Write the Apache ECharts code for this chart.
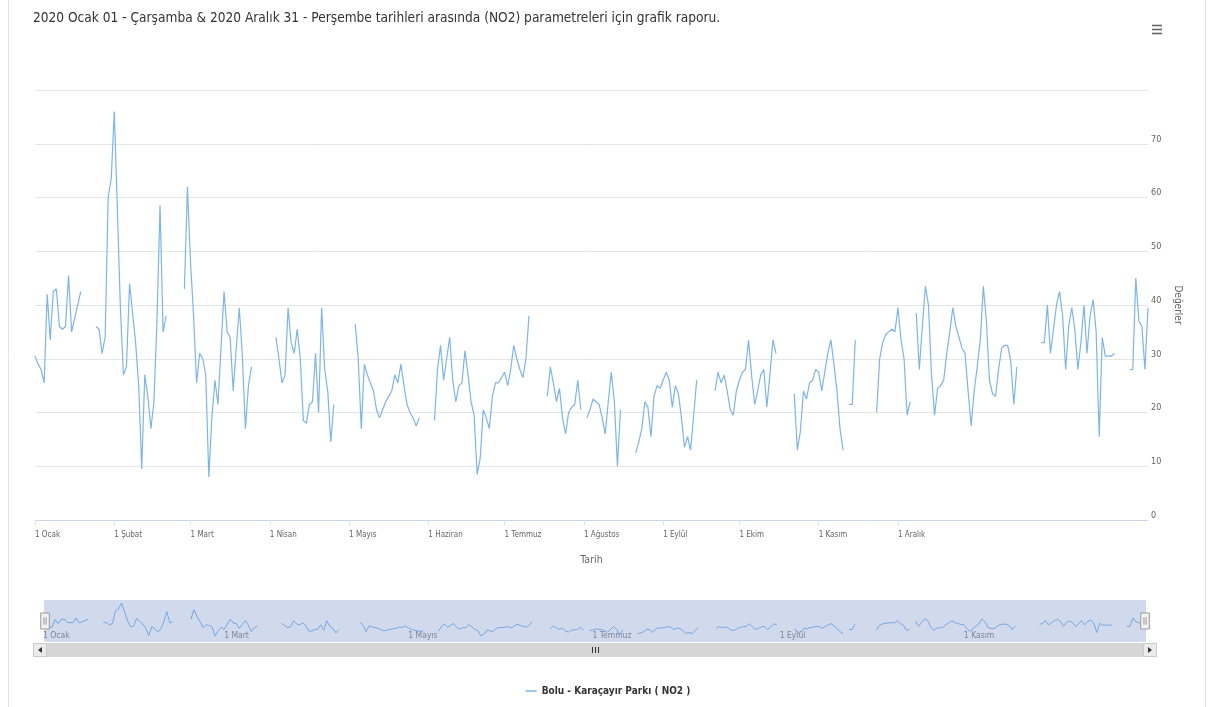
<!DOCTYPE html>
<html>
<head>
<meta charset="utf-8">
<script src="https://cdn.jsdelivr.net/npm/echarts@6/dist/echarts.min.js"></script>
<style>
html,body{margin:0;padding:0;background:#ffffff;}
#chart{width:1216px;height:707px;}
</style>
</head>
<body>
<div id="chart"></div>
<script>
// ---------- DATA ----------
const titleText = '2020 Ocak 01 - Çarşamba & 2020 Aralık 31 - Perşembe tarihleri arasında (NO2) parametreleri için grafik raporu.';
const seriesName = 'Bolu - Karaçayır Parkı ( NO2 )';
const xAxisTitle = 'Tarih';
const yAxisTitle = 'Değerler';
const monthLabels = ['1 Ocak','1 Şubat','1 Mart','1 Nisan','1 Mayıs','1 Haziran','1 Temmuz','1 Ağustos','1 Eylül','1 Ekim','1 Kasım','1 Aralık'];
const startDay = '2020-01-01';

// daily NO2 values, one array per calendar month (null = no measurement)
const jan = [30.5,29,28,25.5,42,33.5,42.5,43,36,35.5,36,45.5,35,37.5,40,42.5,null,null,null,null,36,35.5,31,34,60,63.5,76,58,39.5,27,28.5];
const feb = [44,38.5,33,25,9.5,27,23,17,22,37,58.5,35,38,null,null,null,null,null,43,62,48,38,25.5,31,30,27,8,19,26];
const mar = [21.5,32,42.5,35,34,24,32,39.5,30.5,17,25,28.5,null,null,null,null,null,null,null,34,30,25.5,27,39.5,33,31,35.5,30,18.5,18,21.5];
const apr = [22,31,20,39.5,28,24,14.5,21.5,null,null,null,null,null,null,36.5,30,17,29,27,25.5,24,20.5,19,20.5,22,23,24,27,25.5,29];
const may = [25,21.5,20,19,17.5,19,null,null,null,null,18.5,28,32.5,26,30,34,26,22,25,25.5,31.5,27,22,19.5,8.5,11.5,20.5,19,17,23,25.5];
const jun = [25.5,26.5,27.5,25,28,32.5,30,28,26.5,30,38,null,null,null,null,null,23,28.5,25.5,22,24.5,19,16,20,21,21.5,26,20.5,null,19];
const jul = [20.5,22.5,22,21.5,19,16,22,27.5,22,10,20.5,null,null,null,null,12.5,14.5,17,22,21,15.5,23,25,24.5,26,27.5,26,21,25,23.5,19];
const aug = [13.5,15.5,13,19.5,26,null,null,null,null,null,24,27.5,25.5,27,24,20.5,19.5,24,26,27.5,28,33.5,27,21.5,24,27,28,21,27,33.5,31];
const sep = [null,null,null,null,null,23.5,13,16.5,24,22.5,25.5,26,28,27.5,24,27.5,31,33.5,29,24,17,13,null,21.5,21.5,33.5,null,null,null,null];
const oct = [null,null,20,30,33,34.5,35,35.5,35,39.5,33.5,30,19.5,22,null,38.5,28,36,43.5,40,27,19.5,24.5,25,26,31,35,39.5,36,34,32];
const nov = [31,24,17.5,24,28.5,33.5,43.5,37,26,23.5,23,28,32,32.5,32.5,29.5,21.5,28.5,null,null,null,null,null,null,null,33,33,40,31,35.5];
const dec = [40,42.5,38,28,36,39.5,35.5,28,33,40,31,38,41,35,15.5,34,30.5,30.5,30.5,31,null,null,null,null,28,28,45,37,36,28,39.5];

const values = [].concat(jan, feb, mar, apr, may, jun, jul, aug, sep, oct, nov, dec);
const t0 = Date.parse(startDay + 'T00:00:00Z');
const dates = values.map((_, i) => new Date(t0 + i * 86400000).toISOString().slice(0, 10));

// ---------- STYLE ----------
const FONT = "'Liberation Sans Narrow','Arial Narrow','DejaVu Sans Condensed',sans-serif";
const LINE_COLOR = '#7cb5ec';
const MAIN_LABEL_STEP = 25.7; // spacing (in points) of the main axis month labels as drawn in the reference

function mainLabelShown(idx) {
  const k = Math.round(idx / MAIN_LABEL_STEP);
  return k < monthLabels.length && Math.round(k * MAIN_LABEL_STEP) === idx;
}
function navLabelShown(idx, val) {
  const m = parseInt(val.slice(5, 7), 10) - 1;
  return val.slice(8) === '01' && m % 2 === 0;
}

const chart = echarts.init(document.getElementById('chart'), null, {renderer: 'canvas'});

const option = {
  animation: false,
  backgroundColor: '#ffffff',
  title: {
    text: titleText,
    left: 28,
    top: 6,
    textStyle: {fontFamily: FONT, fontSize: 13.6, fontWeight: 'normal', color: '#333333'}
  },
  legend: {
    data: [seriesName],
    left: 'center',
    top: 681,
    icon: 'rect',
    itemWidth: 11,
    itemHeight: 1.5,
    itemGap: 6,
    textStyle: {fontFamily: FONT, fontSize: 10, fontWeight: 'bold', color: '#333333'}
  },
  grid: [
    {left: 35, right: 68, top: 90, bottom: 187, containLabel: false},
    {left: 43, right: 71, top: 602, height: 38, containLabel: false}
  ],
  xAxis: [
    {
      type: 'category',
      gridIndex: 0,
      data: dates,
      boundaryGap: false,
      axisLine: {show: true, lineStyle: {color: '#ccd6eb'}},
      axisTick: {show: true, interval: mainLabelShown, length: 5, lineStyle: {color: '#dde3ee'}},
      axisLabel: {
        interval: mainLabelShown,
        formatter: (v, idx) => monthLabels[Math.round(idx / MAIN_LABEL_STEP)],
        align: 'left',
        margin: 11,
        color: '#666666',
        fontSize: 8,
        fontFamily: FONT
      },
      splitLine: {show: false},
      name: xAxisTitle,
      nameLocation: 'middle',
      nameGap: 35,
      nameTextStyle: {color: '#666666', fontSize: 10.5, fontFamily: FONT}
    },
    {
      type: 'category',
      gridIndex: 1,
      data: dates,
      boundaryGap: false,
      axisLine: {show: false},
      axisTick: {show: false},
      axisLabel: {
        inside: true,
        interval: navLabelShown,
        formatter: (v) => monthLabels[parseInt(v.slice(5, 7), 10) - 1],
        align: 'left',
        margin: 0,
        color: '#888888',
        fontSize: 8.5,
        fontFamily: FONT
      },
      splitLine: {show: false}
    }
  ],
  yAxis: [
    {
      type: 'value',
      gridIndex: 0,
      position: 'right',
      min: 0,
      max: 80,
      interval: 10,
      axisLine: {show: false},
      axisTick: {show: false},
      axisLabel: {
        showMaxLabel: false,
        margin: 3,
        verticalAlign: 'bottom',
        color: '#666666',
        fontSize: 9,
        fontFamily: FONT
      },
      splitLine: {show: true, lineStyle: {color: '#e6e6e6'}},
      name: yAxisTitle,
      nameLocation: 'middle',
      nameGap: 18,
      nameRotate: -90,
      nameTextStyle: {color: '#666666', fontSize: 10, fontFamily: FONT}
    },
    {
      type: 'value',
      gridIndex: 1,
      min: 0,
      max: 78,
      show: false,
      splitLine: {show: false}
    }
  ],
  dataZoom: [
    {
      type: 'slider',
      xAxisIndex: 0,
      left: 43,
      right: 71,
      top: 600,
      height: 42,
      start: 0,
      end: 100,
      showDetail: false,
      showDataShadow: false,
      brushSelect: false,
      moveHandleSize: 0,
      backgroundColor: 'rgba(0,0,0,0)',
      borderColor: 'rgba(0,0,0,0)',
      fillerColor: 'rgba(102,133,194,0.3)',
      handleIcon: 'path://M0,0 L8,0 L8,15 L0,15 Z M3,4 L3,11 M5,4 L5,11',
      handleSize: 16,
      handleStyle: {color: '#f2f2f2', borderColor: '#999999', borderWidth: 1},
      dataBackground: {lineStyle: {opacity: 0}, areaStyle: {opacity: 0}},
      selectedDataBackground: {lineStyle: {opacity: 0}, areaStyle: {opacity: 0}}
    }
  ],
  series: [
    {
      name: seriesName,
      type: 'line',
      xAxisIndex: 0,
      yAxisIndex: 0,
      data: values,
      showSymbol: false,
      symbol: 'none',
      connectNulls: false,
      lineStyle: {color: LINE_COLOR, width: 1.2},
      itemStyle: {color: LINE_COLOR}
    },
    {
      name: 'navigator',
      type: 'line',
      xAxisIndex: 1,
      yAxisIndex: 1,
      data: values,
      symbol: 'none',
      silent: true,
      connectNulls: false,
      lineStyle: {color: LINE_COLOR, width: 1},
      itemStyle: {color: LINE_COLOR}
    }
  ],
  graphic: [
    // container borders
    {type: 'line', shape: {x1: 8.5, y1: 0, x2: 8.5, y2: 707}, style: {stroke: '#e3e3e3', lineWidth: 1}, silent: true},
    {type: 'line', shape: {x1: 1205.5, y1: 0, x2: 1205.5, y2: 707}, style: {stroke: '#e3e3e3', lineWidth: 1}, silent: true},
    // menu (hamburger) icon
    {type: 'line', shape: {x1: 1152, y1: 25.5, x2: 1162, y2: 25.5}, style: {stroke: '#666666', lineWidth: 1.6}, silent: true},
    {type: 'line', shape: {x1: 1152, y1: 29.5, x2: 1162, y2: 29.5}, style: {stroke: '#666666', lineWidth: 1.6}, silent: true},
    {type: 'line', shape: {x1: 1152, y1: 33.5, x2: 1162, y2: 33.5}, style: {stroke: '#666666', lineWidth: 1.6}, silent: true},
    // scrollbar under the navigator
    {type: 'rect', shape: {x: 33, y: 643, width: 1124, height: 14}, style: {fill: '#f2f2f2'}, silent: true},
    {type: 'rect', shape: {x: 47, y: 643, width: 1096, height: 14}, style: {fill: '#d6d6d6'}, silent: true},
    {type: 'rect', shape: {x: 33.5, y: 643.5, width: 13, height: 13}, style: {fill: '#ebebeb', stroke: '#cccccc'}, silent: true},
    {type: 'rect', shape: {x: 1143.5, y: 643.5, width: 13, height: 13}, style: {fill: '#ebebeb', stroke: '#cccccc'}, silent: true},
    {type: 'polygon', shape: {points: [[42, 647], [42, 653], [38, 650]]}, style: {fill: '#333333'}, silent: true},
    {type: 'polygon', shape: {points: [[1148, 647], [1148, 653], [1152, 650]]}, style: {fill: '#333333'}, silent: true},
    {type: 'line', shape: {x1: 592.5, y1: 647, x2: 592.5, y2: 653}, style: {stroke: '#333333', lineWidth: 1}, silent: true},
    {type: 'line', shape: {x1: 595.5, y1: 647, x2: 595.5, y2: 653}, style: {stroke: '#333333', lineWidth: 1}, silent: true},
    {type: 'line', shape: {x1: 598.5, y1: 647, x2: 598.5, y2: 653}, style: {stroke: '#333333', lineWidth: 1}, silent: true}
  ]
};

chart.setOption(option);
</script>
</body>
</html>
